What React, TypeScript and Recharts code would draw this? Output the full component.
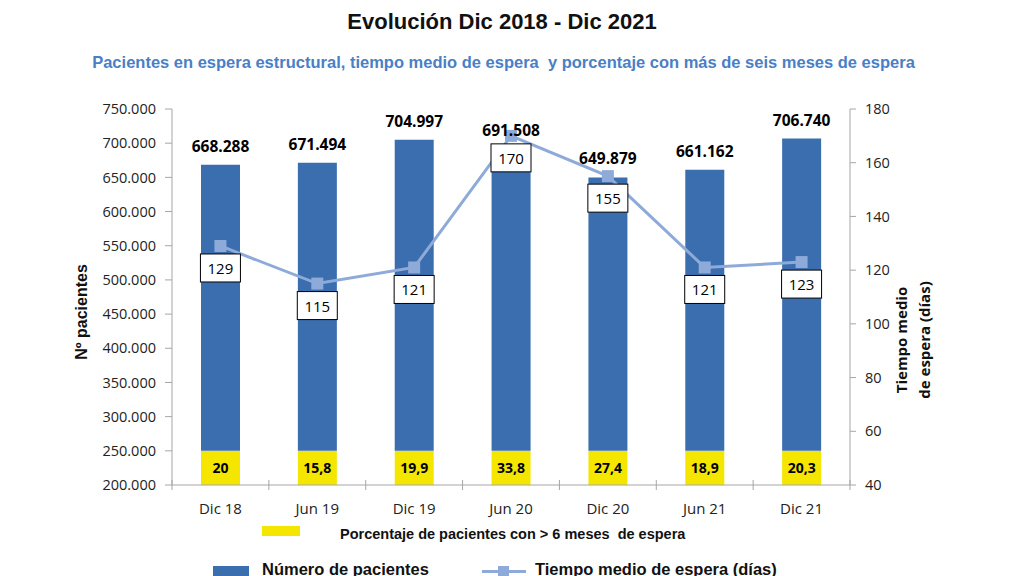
import { ComposedChart, Bar, Line, XAxis, YAxis, LabelList } from 'recharts';

const periods = ['Dic 18', 'Jun 19', 'Dic 19', 'Jun 20', 'Dic 20', 'Jun 21', 'Dic 21'];
const patients = [668288, 671494, 704997, 691508, 649879, 661162, 706740];
const waitDays = [129, 115, 121, 170, 155, 121, 123];
const overSixMonths = [20, 15.8, 19.9, 33.8, 27.4, 18.9, 20.3];

const patientTicks = [200000, 250000, 300000, 350000, 400000, 450000, 500000, 550000, 600000, 650000, 700000, 750000];
const dayTicks = [40, 60, 80, 100, 120, 140, 160, 180];

// top of the yellow band that carries the percentage
const BAND_TOP = 250000;

const BLUE = '#3b6eae';
const YELLOW = '#f5e600';
const LINE = '#8eaad9';
const AXIS = '#a6a6a6';
const FONT = '"Open Sans", "Liberation Sans", sans-serif';
const ARIAL = '"Liberation Sans", Arial, sans-serif';

const data = periods.map((p, i) => ({
  period: p,
  band: BAND_TOP,
  rest: patients[i] - BAND_TOP,
  total: patients[i],
  days: waitDays[i],
  pct: overSixMonths[i],
}));

const thousands = (n: number) => String(n).replace(/\B(?=(\d{3})+(?!\d))/g, '.');
const comma = (n: number) => String(n).replace('.', ',');

const SquareDot = (props: any) => {
  const { cx, cy } = props;
  if (cx == null || cy == null) return null;
  return <rect x={cx - 6} y={cy - 6} width={12} height={12} fill={LINE} />;
};

const BoxLabel = (props: any) => {
  const { x, y, value } = props;
  return (
    <g>
      <rect x={x - 20} y={y + 8} width={40} height={28} fill="#fff" stroke="#000" strokeWidth={1} />
      <text x={x} y={y + 28} textAnchor="middle" fontFamily={FONT} fontSize={15} fill="#000">
        {value}
      </text>
    </g>
  );
};

const PctLabel = (props: any) => {
  const { x, y, width, value } = props;
  return (
    <text x={x + width / 2} y={y + 22} textAnchor="middle" fontFamily={FONT} fontSize={14} fontWeight="bold" fill="#000">
      {comma(value)}
    </text>
  );
};

const XTick = (props: any) => {
  const { x, payload, index, width, visibleTicksCount } = props;
  const band = width / visibleTicksCount;
  const axisY = 485;
  return (
    <g>
      <line x1={x - band / 2} x2={x - band / 2} y1={axisY - 5} y2={axisY + 5} stroke={AXIS} />
      {index === visibleTicksCount - 1 && (
        <line x1={x + band / 2} x2={x + band / 2} y1={axisY - 5} y2={axisY + 5} stroke={AXIS} />
      )}
      <text x={x} y={axisY + 29} textAnchor="middle" fontFamily={FONT} fontSize={15} fill="#222">
        {payload.value}
      </text>
    </g>
  );
};

export default function App() {
  return (
    <div style={{ position: 'absolute', left: 0, top: 0, width: 1024, height: 576, overflow: 'hidden', background: '#fff' }}>
      <div style={{ position: 'absolute', top: 9, left: 0, width: 1004, textAlign: 'center', fontFamily: ARIAL, fontWeight: 'bold', fontSize: 22, color: '#111' }}>
        Evolución Dic 2018 - Dic 2021
      </div>
      <div style={{ position: 'absolute', top: 53, left: 0, width: 1007, textAlign: 'center', fontFamily: ARIAL, fontWeight: 'bold', fontSize: 16.5, color: '#4a7fc6', whiteSpace: 'nowrap' }}>
        Pacientes en espera estructural, tiempo medio de espera&nbsp; y porcentaje con más de seis meses de espera
      </div>

      <ComposedChart
        width={1024}
        height={576}
        data={data}
        margin={{ top: 109, right: 114, bottom: 61, left: 92 }}
        barSize={39}
      >
        <XAxis
          dataKey="period"
          axisLine={{ stroke: AXIS }}
          tickLine={false}
          tick={<XTick />}
          height={30}
          interval={0}
        />
        <YAxis
          yAxisId="left"
          width={80}
          domain={[200000, 750000]}
          ticks={patientTicks}
          allowDataOverflow
          tickFormatter={thousands}
          axisLine={{ stroke: AXIS }}
          tickLine={{ stroke: AXIS }}
          tickSize={7}
          tickMargin={9}
          tick={{ fontFamily: FONT, fontSize: 14.5, fill: '#222' }}
        />
        <YAxis
          yAxisId="right"
          orientation="right"
          width={60}
          domain={[40, 180]}
          ticks={dayTicks}
          axisLine={{ stroke: AXIS }}
          tickLine={{ stroke: AXIS }}
          tickSize={6}
          tickMargin={9}
          tick={{ fontFamily: FONT, fontSize: 14.5, fill: '#222', textAnchor: 'start' }}
        />
        <Bar yAxisId="left" dataKey="band" stackId="p" fill={YELLOW} isAnimationActive={false}>
          <LabelList dataKey="pct" content={<PctLabel />} />
        </Bar>
        <Bar yAxisId="left" dataKey="rest" stackId="p" fill={BLUE} isAnimationActive={false}>
          <LabelList
            dataKey="total"
            position="top"
            offset={13}
            formatter={(v: any) => thousands(v)}
            style={{ fontFamily: FONT, fontSize: 15.5, fontWeight: 'bold', fill: '#000' }}
          />
        </Bar>
        <Line
          yAxisId="right"
          dataKey="days"
          stroke={LINE}
          strokeWidth={3}
          dot={<SquareDot />}
          activeDot={false}
          isAnimationActive={false}
        >
          <LabelList dataKey="days" content={<BoxLabel />} />
        </Line>
      </ComposedChart>

      <div style={{ position: 'absolute', left: 82, top: 312, transform: 'translate(-50%, -50%) rotate(-90deg)', whiteSpace: 'nowrap', fontFamily: ARIAL, fontWeight: 'bold', fontSize: 16, color: '#111' }}>
        Nº pacientes
      </div>
      <div style={{ position: 'absolute', left: 913, top: 340, transform: 'translate(-50%, -50%) rotate(-90deg)', whiteSpace: 'nowrap', textAlign: 'center', fontFamily: FONT, fontWeight: 'bold', fontSize: 15, lineHeight: '23px', color: '#111' }}>
        Tiempo medio<br />de espera (días)
      </div>

      <div style={{ position: 'absolute', left: 262, top: 526, width: 38, height: 10, background: YELLOW }} />
      <div style={{ position: 'absolute', left: 340, top: 526, whiteSpace: 'pre', fontFamily: ARIAL, fontWeight: 'bold', fontSize: 14.5, color: '#111' }}>
        {'Porcentaje de pacientes con > 6 meses  de espera'}
      </div>

      <div style={{ position: 'absolute', left: 213, top: 566, width: 36, height: 14, background: BLUE }} />
      <div style={{ position: 'absolute', left: 262, top: 560, whiteSpace: 'nowrap', fontFamily: ARIAL, fontWeight: 'bold', fontSize: 16.5, color: '#111' }}>
        Número de pacientes
      </div>
      <div style={{ position: 'absolute', left: 482, top: 570, width: 44, height: 3, background: LINE }} />
      <div style={{ position: 'absolute', left: 498, top: 566, width: 11, height: 11, background: LINE }} />
      <div style={{ position: 'absolute', left: 535, top: 560, whiteSpace: 'nowrap', fontFamily: ARIAL, fontWeight: 'bold', fontSize: 16.5, color: '#111' }}>
        Tiempo medio de espera (días)
      </div>
    </div>
  );
}
